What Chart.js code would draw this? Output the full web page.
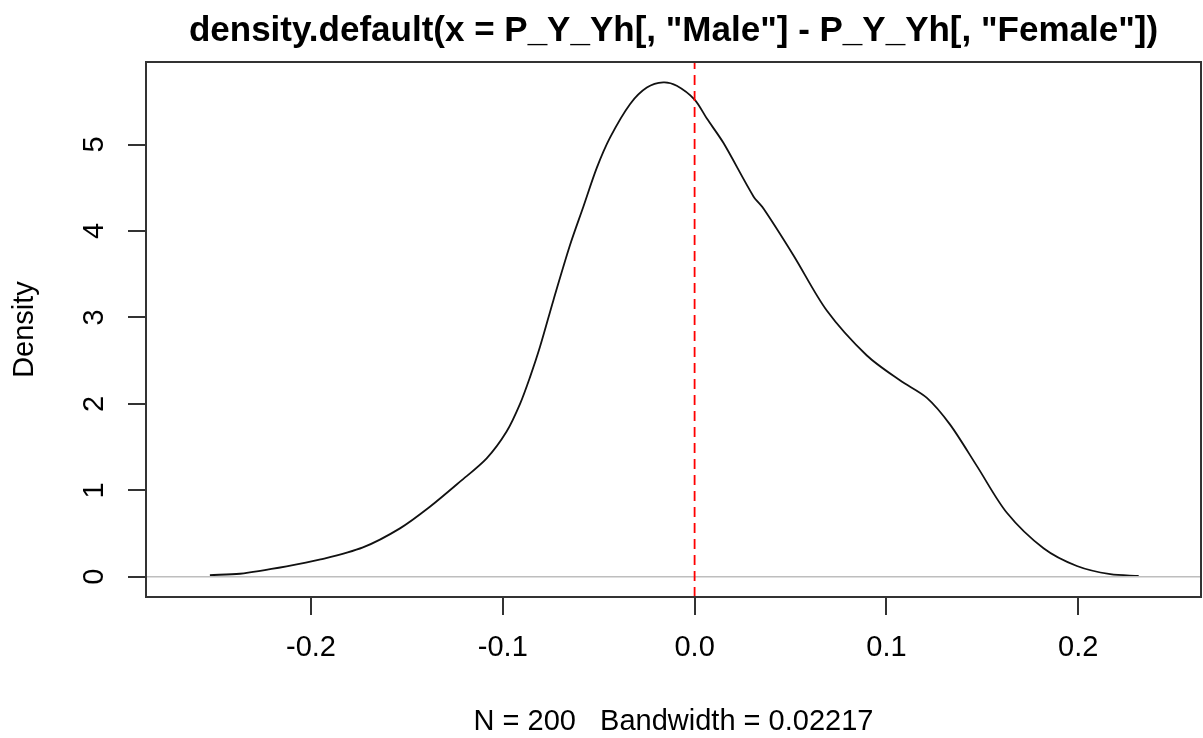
<!DOCTYPE html>
<html>
<head>
<meta charset="utf-8">
<script src="https://cdn.jsdelivr.net/npm/chart.js@4"></script>
<style>
  body { margin: 0; background: #fff; }
  #wrap { width: 1203px; height: 738px; }
</style>
</head>
<body>
<div id="wrap"><canvas id="densityChart" width="1203" height="738"></canvas></div>
<script>
// density estimate
const densX = [-0.2527, -0.237, -0.2127, -0.195, -0.1729, -0.1536, -0.138, -0.1223, -0.1084, -0.098,
  -0.091, -0.0858, -0.0806, -0.0736, -0.0649, -0.058, -0.051, -0.0441, -0.0336, -0.0249,
  -0.0163, -0.0093, 0.0, 0.0064, 0.015, 0.0307, 0.0359, 0.0515, 0.0689, 0.0898,
  0.1072, 0.1211, 0.1332, 0.1472, 0.1628, 0.1819, 0.1993, 0.2167, 0.2315];
const densY = [0.02, 0.035, 0.12, 0.2, 0.34, 0.56, 0.81, 1.10, 1.37, 1.68,
  2.0, 2.31, 2.66, 3.20, 3.84, 4.28, 4.73, 5.08, 5.47, 5.66,
  5.72, 5.68, 5.52, 5.30, 5.02, 4.40, 4.26, 3.72, 3.08, 2.56,
  2.27, 2.07, 1.76, 1.28, 0.74, 0.33, 0.125, 0.03, 0.01];

const xTicks = [-0.2, -0.1, 0, 0.1, 0.2];
const xTickLabels = ['-0.2', '-0.1', '0.0', '0.1', '0.2'];
const yTicks = [0, 1, 2, 3, 4, 5];
const yTickLabels = ['0', '1', '2', '3', '4', '5'];

const xLimits = [-0.286, 0.264];
const yLimits = [-0.234, 5.955];
const refLineX = 0;   // abline(v = 0)
const zeroLineY = 0;  // zero.line of plot.density

const mainTitle = 'density.default(x = P_Y_Yh[, "Male"] - P_Y_Yh[, "Female"])';
const subTitle = 'N = 200   Bandwidth = 0.02217';
const yTitle = 'Density';

const FONT = "'Liberation Sans', Arial, sans-serif";

// box around the plot region, like R's box()
const frame = {
    id: 'frame',
    afterDraw(chart) {
        const { ctx, chartArea: a } = chart;
        ctx.save();
        ctx.strokeStyle = '#333';
        ctx.lineWidth = 2;
        ctx.strokeRect(a.left, a.top, a.right - a.left, a.bottom - a.top);
        ctx.restore();
    }
};

const ctx = document.getElementById('densityChart').getContext('2d');
new Chart(ctx, {
    type: 'scatter',
    data: {
        datasets: [{
            data: densX.map((x, i) => ({ x: x, y: densY[i] })),
            showLine: true,
            borderColor: '#111',
            borderWidth: 1.8,
            pointRadius: 0,
            tension: 0.3,
            order: 3
        }, {
            data: [{ x: xLimits[0], y: zeroLineY }, { x: xLimits[1], y: zeroLineY }],
            showLine: true,
            borderColor: '#bebebe',
            borderWidth: 1.6,
            pointRadius: 0,
            order: 2
        }, {
            data: [{ x: refLineX, y: yLimits[0] }, { x: refLineX, y: yLimits[1] }],
            showLine: true,
            borderColor: '#ff0000',
            borderWidth: 1.8,
            borderDash: [10, 6],
            pointRadius: 0,
            order: 1
        }]
    },
    options: {
        responsive: false,
        animation: false,
        layout: { padding: { left: 0, right: 2, top: 0, bottom: 0 } },
        scales: {
            x: {
                type: 'linear',
                min: xLimits[0],
                max: xLimits[1],
                afterBuildTicks: s => { s.ticks = xTicks.map(v => ({ value: v })); },
                afterFit: s => { s.height = 141; },
                ticks: {
                    callback: v => xTickLabels[xTicks.indexOf(v)],
                    font: { family: FONT, size: 29 },
                    color: '#000',
                    padding: 16,
                    maxRotation: 0,
                    autoSkip: false
                },
                grid: { drawOnChartArea: false, drawTicks: true, tickLength: 18, color: '#333', lineWidth: 2 },
                border: { display: false },
                title: {
                    display: true,
                    text: subTitle,
                    font: { family: FONT, size: 29, lineHeight: 1 },
                    color: '#000',
                    padding: { top: 0, bottom: 1.5 }
                }
            },
            y: {
                type: 'linear',
                min: yLimits[0],
                max: yLimits[1],
                afterBuildTicks: s => { s.ticks = yTicks.map(v => ({ value: v })); },
                afterFit: s => { s.width = 146; },
                ticks: {
                    callback: v => yTickLabels[yTicks.indexOf(v)],
                    font: { family: FONT, size: 29 },
                    color: '#000',
                    minRotation: 90,
                    maxRotation: 90,
                    crossAlign: 'center',
                    padding: 25,
                    autoSkip: false
                },
                grid: { drawOnChartArea: false, drawTicks: true, tickLength: 18, color: '#333', lineWidth: 2 },
                border: { display: false },
                title: {
                    display: true,
                    text: yTitle,
                    font: { family: FONT, size: 29, lineHeight: 1.2 },
                    color: '#000',
                    padding: { top: 7.6, bottom: 0 }
                }
            }
        },
        plugins: {
            legend: { display: false },
            tooltip: { enabled: false },
            title: {
                display: true,
                text: mainTitle,
                fullSize: false,
                font: { family: FONT, size: 35, weight: 'bold', lineHeight: 1.2 },
                color: '#000',
                padding: { top: 10, bottom: 10 }
            }
        }
    },
    plugins: [frame]
});
</script>
</body>
</html>
